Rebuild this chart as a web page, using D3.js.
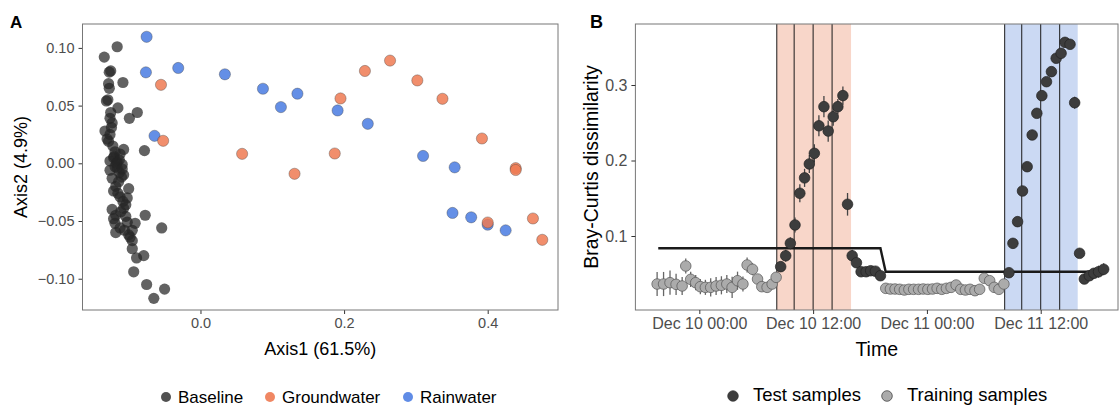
<!DOCTYPE html>
<html>
<head>
<meta charset="utf-8">
<script src="https://cdn.jsdelivr.net/npm/d3@7"></script>
<style>
  body { margin: 0; background: #fff; }
  svg { display: block; font-family: "Liberation Sans", Arial, sans-serif; }
  .tick text { fill: #4d4d4d; }
  .tick line { stroke: #333; }
  .domain { display: none; }
</style>
</head>
<body>
<svg id="chart" width="1120" height="406"></svg>
<script>
// ---- panel A: ordination (Axis1, Axis2) ----
const baselineX = [-0.116, -0.134, -0.127, -0.125, -0.128, -0.108, -0.131, -0.129, -0.115, -0.088,
    -0.099, -0.126, -0.123, -0.133, -0.126, -0.130, -0.128, -0.107, -0.078, -0.121,
    -0.126, -0.116, -0.109, -0.120, -0.126, -0.116, -0.107, -0.123, -0.114, -0.118,
    -0.100, -0.112, -0.102, -0.123, -0.107, -0.077, -0.054, -0.119, -0.112, -0.102,
    -0.095, -0.100, -0.095, -0.091, -0.095, -0.089, -0.079, -0.093, -0.075, -0.050,
    -0.065, -0.119, -0.113, -0.121, -0.108, -0.118, -0.104, -0.113, -0.118, -0.106,
    -0.110, -0.124, -0.127, -0.117, -0.122, -0.112, -0.119, -0.109, -0.115, -0.104,
    -0.121, -0.111, -0.098, -0.125];
const baselineY = [0.101, 0.092, 0.079, 0.080, 0.069, 0.070, 0.054, 0.055, 0.048, 0.044,
    0.039, 0.039, 0.035, 0.028, 0.025, 0.021, 0.019, 0.012, 0.011, 0.005,
    0.002, 0.001, -0.001, 0.006, -0.006, -0.004, -0.010, -0.013, -0.016, -0.020,
    -0.022, -0.029, -0.030, -0.040, -0.039, -0.045, -0.056, -0.052, -0.056, -0.051,
    -0.058, -0.062, -0.067, -0.052, -0.074, -0.082, -0.080, -0.094, -0.105, -0.109,
    -0.117, 0.010, -0.008, -0.024, -0.033, -0.045, -0.046, 0.003, -0.060, -0.058,
    -0.012, 0.031, 0.065, 0.000, 0.015, 0.008, -0.003, -0.005, -0.026, -0.036,
    -0.048, -0.042, -0.064, 0.044];
const groundX = [-0.055, -0.052, 0.058, 0.131, 0.187, 0.195, 0.229, 0.264, 0.302, 0.337,
    0.392, 0.439, 0.439, 0.400, 0.463, 0.476];
const groundY = [0.068, 0.0195, 0.0082, -0.0091, 0.0085, 0.0562, 0.080, 0.089, 0.0718, 0.0559,
    0.0215, -0.0042, -0.0058, -0.0513, -0.0478, -0.0663];
const rainX = [-0.075, -0.076, -0.031, 0.034, 0.087, 0.112, 0.135, 0.191, 0.233, 0.310,
    0.354, -0.064, 0.351, 0.377, 0.400, 0.425];
const rainY = [0.1096, 0.0788, 0.0826, 0.0771, 0.0646, 0.0487, 0.0603, 0.0458, 0.0342, 0.0064,
    -0.0035, 0.0238, -0.043, -0.0468, -0.0532, -0.0581];

const axisXTicks = [0.0, 0.2, 0.4];
const axisYTicks = [0.10, 0.05, 0.00, -0.05, -0.10];
const groupNames = ["Baseline", "Groundwater", "Rainwater"];

// ---- panel B: dissimilarity over time (hours after Dec 10 00:00) ----
const trainHours = [-4.45, -3.77, -3.09, -2.45, -1.81, -1.43, -0.91, -0.38, 0.11, 0.64,
    1.20, 1.77, 2.33, 2.90, 3.46, 4.03, 4.60, 5.04, 5.61, 6.14,
    6.59, 7.15, 7.68, 8.10,
    19.66, 20.15, 20.64, 21.13, 21.62, 22.10, 22.60, 23.12, 23.61, 24.10,
    24.59, 25.08, 25.57, 26.06, 26.55, 27.08, 27.57, 28.06, 28.55, 29.07,
    29.56, 30.05, 30.62, 31.10, 31.59, 32.12];
const trainValues = [0.0364, 0.0364, 0.0382, 0.0360, 0.0338, 0.0603, 0.0426, 0.0382, 0.0329, 0.0320,
    0.0320, 0.0338, 0.0347, 0.0364, 0.0320, 0.0408, 0.0364, 0.0616, 0.0559, 0.0430,
    0.0329, 0.0320, 0.0364, 0.0453,
    0.0307, 0.0298, 0.0298, 0.0294, 0.0285, 0.0294, 0.0294, 0.0294, 0.0298, 0.0294,
    0.0298, 0.0307, 0.0294, 0.0307, 0.0320, 0.0351, 0.0294, 0.0285, 0.0294, 0.0276,
    0.0294, 0.0440, 0.0408, 0.0320, 0.0294, 0.0364];
const trainErr = [0.016, 0.016, 0.016, 0.014, 0.012, 0.010, 0.010, 0.010, 0.010, 0.010,
    0.012, 0.012, 0.012, 0.012, 0.014, 0.012, 0.010, 0.010, 0.008, 0.006,
    0.005, 0.005, 0.004, 0.004,
    0.003, 0.003, 0.003, 0.003, 0.003, 0.003, 0.003, 0.003, 0.003, 0.003,
    0.003, 0.003, 0.003, 0.003, 0.003, 0.003, 0.003, 0.003, 0.003, 0.003,
    0.003, 0.004, 0.004, 0.004, 0.004, 0.005];

const testHours = [8.58, 9.11, 9.60, 10.09, 10.60, 11.10, 11.60, 12.13, 12.61, 13.14,
    13.59, 14.12, 14.61, 15.14, 15.63, 16.12, 16.57, 17.06, 17.59, 18.07,
    18.57, 19.10,
    32.65, 33.07, 33.56, 34.08, 34.57, 35.10, 35.59, 36.12, 36.61, 37.13,
    37.63, 38.15, 38.56, 39.09, 39.58, 40.10, 40.60, 41.13, 41.61, 42.10,
    42.64];
const testValues = [0.0594, 0.0739, 0.0903, 0.1146, 0.1566, 0.1770, 0.1954, 0.2095, 0.2460, 0.2713,
    0.2390, 0.2580, 0.2713, 0.2860, 0.1420, 0.0739, 0.0646, 0.0527, 0.0527, 0.0540,
    0.0534, 0.0474,
    0.0514, 0.0903, 0.1190, 0.1596, 0.1918, 0.2338, 0.2625, 0.2859, 0.3044, 0.3177,
    0.3354, 0.3420, 0.3565, 0.3539, 0.2766, 0.0771, 0.0430, 0.0474, 0.0506, 0.0527,
    0.0559];
const testErr = [0.006, 0.008, 0.008, 0.010, 0.012, 0.012, 0.012, 0.012, 0.014, 0.014,
    0.014, 0.012, 0.010, 0.012, 0.015, 0.008, 0.006, 0.005, 0.005, 0.005,
    0.005, 0.005,
    0.004, 0.006, 0.006, 0.006, 0.006, 0.006, 0.006, 0.006, 0.006, 0.006,
    0.006, 0.006, 0.006, 0.006, 0.008, 0.005, 0.004, 0.004, 0.006, 0.008,
    0.008];

const stepHours = [-4.33, 19.10, 19.65, 42.56];
const stepValues = [0.0837, 0.0837, 0.0527, 0.0527];

const shadeGround = [8.17, 16.0];
const shadeRain = [32.2, 39.9];
const eventHours = [8.17, 10, 12, 14, 32.2, 34, 36, 38];

const timeTickHours = [0, 12, 24, 36];
const dissimTicks = [0.1, 0.2, 0.3];
const sampleNames = ["Test samples", "Training samples"];

const baseDate = new Date(2019, 11, 10, 0, 0);
const toDate = h => new Date(baseDate.getTime() + h * 3600e3);

const svg = d3.select("#chart");

const colors = {Baseline: "#262626", Groundwater: "#EE7A52", Rainwater: "#4F7FE3"};

function drawPanelA() {
    const frame = {left: 82.5, top: 24, right: 558, bottom: 310};
    const x = d3.scaleLinear().domain([-0.1643, 0.4979]).range([frame.left, frame.right]);
    const y = d3.scaleLinear().domain([-0.1271, 0.1207]).range([frame.bottom, frame.top]);

    svg.append("g")
        .attr("transform", `translate(0, ${frame.bottom})`)
        .call(d3.axisBottom(x).tickValues(axisXTicks).tickFormat(d3.format(".1f")).tickSize(4).tickPadding(4))
        .selectAll("text").attr("font-size", 14.5);
    svg.append("g")
        .attr("transform", `translate(${frame.left}, 0)`)
        .call(d3.axisLeft(y).tickValues(axisYTicks).tickFormat(d3.format(".2f")).tickSize(4).tickPadding(4))
        .selectAll("text").attr("font-size", 14.5);

    const groups = [
        {name: "Baseline", xs: baselineX, ys: baselineY, op: 0.72, stroke: "none"},
        {name: "Rainwater", xs: rainX, ys: rainY, op: 0.88, stroke: "#3a3a3a"},
        {name: "Groundwater", xs: groundX, ys: groundY, op: 0.85, stroke: "#3a3a3a"}
    ];
    groups.forEach(g => {
        svg.append("g").selectAll("circle")
            .data(g.xs.map((v, i) => [v, g.ys[i]]))
            .join("circle")
            .attr("cx", d => x(d[0]))
            .attr("cy", d => y(d[1]))
            .attr("r", 5.6)
            .attr("fill", colors[g.name])
            .attr("fill-opacity", g.op)
            .attr("stroke", g.stroke)
            .attr("stroke-opacity", 0.6)
            .attr("stroke-width", 0.6);
    });

    svg.append("rect")
        .attr("x", frame.left).attr("y", frame.top)
        .attr("width", frame.right - frame.left).attr("height", frame.bottom - frame.top)
        .attr("fill", "none").attr("stroke", "#777").attr("stroke-width", 1);

    svg.append("text").attr("x", 10).attr("y", 28)
        .attr("font-weight", "bold").attr("font-size", 17).text("A");
    svg.append("text").attr("x", (frame.left + frame.right) / 2).attr("y", 355)
        .attr("text-anchor", "middle").attr("font-size", 18).text("Axis1 (61.5%)");
    svg.append("text")
        .attr("transform", `translate(27, ${(frame.top + frame.bottom) / 2}) rotate(-90)`)
        .attr("text-anchor", "middle").attr("font-size", 18).text("Axis2 (4.9%)");

    // legend
    const legendX = [166, 270, 408];
    groupNames.forEach((n, i) => {
        svg.append("circle").attr("cx", legendX[i]).attr("cy", 397).attr("r", 5)
            .attr("fill", colors[n]).attr("fill-opacity", n === "Baseline" ? 0.8 : 0.9);
        svg.append("text").attr("x", legendX[i] + 12).attr("y", 403)
            .attr("font-size", 17).text(n);
    });
}

function drawPanelB() {
    const frame = {left: 635.4, top: 24, right: 1118, bottom: 310};
    const x = d3.scaleTime().domain([toDate(-6.74), toDate(44.15)]).range([frame.left, frame.right]);
    const y = d3.scaleLinear().domain([0.002, 0.3808]).range([frame.bottom, frame.top]);

    const shades = [[shadeGround, "#F8D6C9"], [shadeRain, "#CBD9F3"]];
    svg.append("g").selectAll("rect")
        .data(shades)
        .join("rect")
        .attr("x", d => x(toDate(d[0][0])))
        .attr("width", d => x(toDate(d[0][1])) - x(toDate(d[0][0])))
        .attr("y", frame.top).attr("height", frame.bottom - frame.top)
        .attr("fill", d => d[1]);

    svg.append("g").selectAll("line")
        .data(eventHours)
        .join("line")
        .attr("x1", d => x(toDate(d))).attr("x2", d => x(toDate(d)))
        .attr("y1", frame.top).attr("y2", frame.bottom)
        .attr("stroke", "#1a1a1a").attr("stroke-width", 1);

    const step = d3.line()
        .x((d, i) => x(toDate(stepHours[i])))
        .y(d => y(d));
    svg.append("path")
        .datum(stepValues)
        .attr("d", step)
        .attr("fill", "none").attr("stroke", "#1a1a1a").attr("stroke-width", 2.4);

    const sets = [
        {hours: trainHours, vals: trainValues, err: trainErr, fill: "#ababab", stroke: "#555", bar: "#666"},
        {hours: testHours, vals: testValues, err: testErr, fill: "#3d3d3d", stroke: "#222", bar: "#444"}
    ];
    sets.forEach(s => {
        const pts = s.hours.map((h, i) => ({t: toDate(h), v: s.vals[i], e: s.err[i]}));
        svg.append("g").selectAll("line")
            .data(pts)
            .join("line")
            .attr("x1", d => x(d.t)).attr("x2", d => x(d.t))
            .attr("y1", d => y(d.v - d.e)).attr("y2", d => y(d.v + d.e))
            .attr("stroke", s.bar).attr("stroke-width", 1.3);
        svg.append("g").selectAll("circle")
            .data(pts)
            .join("circle")
            .attr("cx", d => x(d.t))
            .attr("cy", d => y(d.v))
            .attr("r", 5.3)
            .attr("fill", s.fill)
            .attr("stroke", s.stroke)
            .attr("stroke-width", 0.7);
    });

    svg.append("rect")
        .attr("x", frame.left).attr("y", frame.top)
        .attr("width", frame.right - frame.left).attr("height", frame.bottom - frame.top)
        .attr("fill", "none").attr("stroke", "#777").attr("stroke-width", 1);

    svg.append("g")
        .attr("transform", `translate(0, ${frame.bottom})`)
        .call(d3.axisBottom(x).tickValues(timeTickHours.map(toDate))
            .tickFormat(d3.timeFormat("%b %d %H:%M")).tickSize(4).tickPadding(4))
        .selectAll("text").attr("font-size", 16);
    svg.append("g")
        .attr("transform", `translate(${frame.left}, 0)`)
        .call(d3.axisLeft(y).tickValues(dissimTicks).tickFormat(d3.format(".1f")).tickSize(4).tickPadding(4))
        .selectAll("text").attr("font-size", 16);

    svg.append("text").attr("x", 590).attr("y", 28)
        .attr("font-weight", "bold").attr("font-size", 18).text("B");
    svg.append("text").attr("x", (frame.left + frame.right) / 2).attr("y", 356)
        .attr("text-anchor", "middle").attr("font-size", 19.5).text("Time");
    svg.append("text")
        .attr("transform", `translate(598, ${(frame.top + frame.bottom) / 2}) rotate(-90)`)
        .attr("text-anchor", "middle").attr("font-size", 19.5).text("Bray-Curtis dissimilarity");

    const legendX = [733, 887];
    const legendFill = ["#3d3d3d", "#ababab"];
    sampleNames.forEach((n, i) => {
        svg.append("circle").attr("cx", legendX[i]).attr("cy", 396).attr("r", 5.3)
            .attr("fill", legendFill[i]).attr("stroke", "#333").attr("stroke-width", 0.7);
        svg.append("text").attr("x", legendX[i] + 20).attr("y", 401)
            .attr("font-size", 18.5).text(n);
    });
}

drawPanelA();
drawPanelB();
</script>
</body>
</html>
